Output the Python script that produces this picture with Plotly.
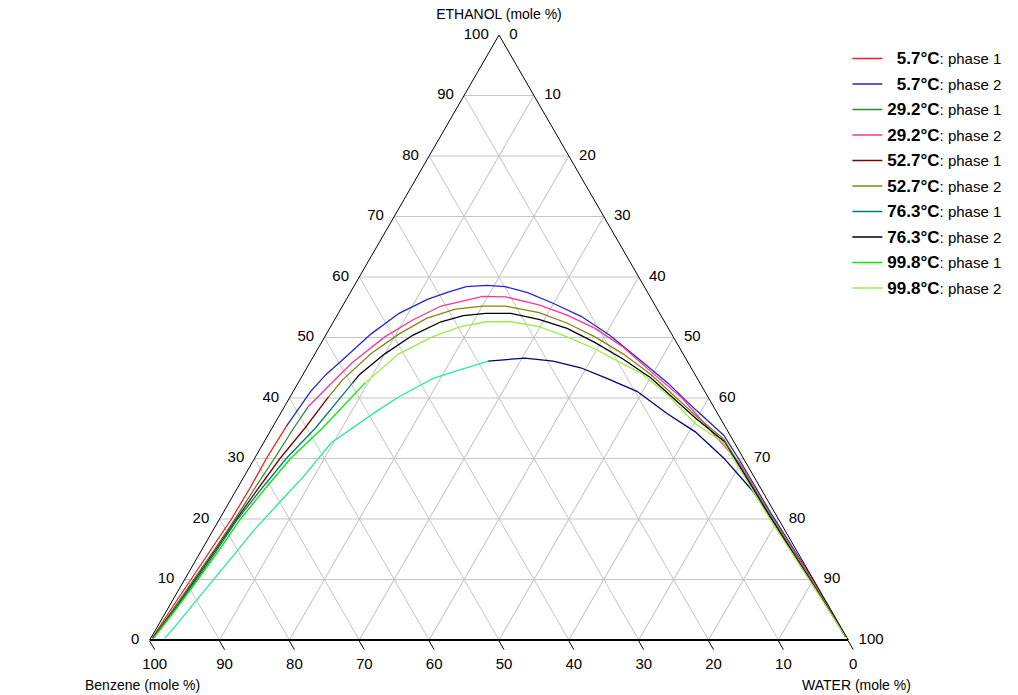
import plotly.graph_objects as go

# Ternary composition ticks (mole %)
TICKS = [0, 10, 20, 30, 40, 50, 60, 70, 80, 90, 100]

# Series values: ethanol (a) and water (c) in mole %; benzene = remainder
eth_5_7_p1 = [0.3, 5, 10, 15, 20, 25, 30, 35.4]
wat_5_7_p1 = [0.2, 0.5, 0.9, 1.3, 1.7, 1.8, 1.7, 1.9]

eth_5_7_p2 = [35.4, 41.1, 43.9, 46.4, 50.6, 54.0, 56.3, 57.4, 58.4, 58.6, 58.4, 57.4,
              55.7, 53.5, 50.4, 46.7, 42.5, 38.0, 33.8, 29.3, 20.8, 10.7, 3.9, 0.6]
wat_5_7_p2 = [1.9, 2.5, 3.3, 4.5, 6.4, 8.7, 11.6, 13.8, 16.1, 19.0, 21.7, 25.4,
              29.8, 35.0, 40.6, 46.4, 52.9, 59.2, 65.3, 70.0, 78.6, 89.2, 96.0, 99.3]

eth_29_2_p1 = [0.3, 5, 10, 15, 20, 25, 30, 35, 38.5]
wat_29_2_p1 = [0.3, 0.8, 1.3, 1.8, 2.2, 2.5, 2.85, 3.1, 3.4]

eth_29_2_p2 = [38.5, 42.2, 45.9, 50.1, 52.9, 55.2, 56.8, 56.7, 55.4, 53.7, 51.5, 48.4,
               44.4, 40.0, 35.4, 29.0, 20.5, 10.4, 0.6]
wat_29_2_p2 = [3.4, 4.7, 6.1, 8.6, 11.2, 14.1, 19.3, 22.6, 28.0, 32.9, 38.0, 43.6,
               49.5, 56.2, 62.0, 70.1, 78.7, 89.4, 99.3]

eth_52_7_p1 = [0.3, 5, 10, 15, 20, 25, 30, 35, 40.2]
wat_52_7_p1 = [0.3, 1.0, 1.5, 2.0, 2.4, 3.0, 3.65, 4.7, 5.5]

eth_52_7_p2 = [40.2, 43.0, 47.3, 50.6, 53.2, 54.7, 55.2, 55.2, 54.1, 52.4, 50.1, 47.3,
               43.9, 37.1, 33.2, 28.7, 20.3, 10.1, 0.6]
wat_52_7_p2 = [5.5, 6.1, 8.0, 10.4, 13.1, 16.4, 20.1, 23.3, 28.7, 33.5, 38.7, 44.1,
               49.8, 59.6, 65.6, 70.2, 78.9, 89.5, 99.3]

eth_76_3_p1 = [0.3, 5, 10, 15, 20, 25, 30, 35, 42.5]
wat_76_3_p1 = [0.3, 1.1, 1.7, 2.2, 2.6, 3.5, 4.55, 6.2, 7.8]

eth_76_3_p2 = [42.5, 43.9, 47.3, 50.4, 52.6, 53.6, 54.0, 54.0, 53.0, 51.5, 49.2, 46.4,
               43.3, 36.6, 32.9, 28.4, 20.0, 9.8, 0.6]
wat_76_3_p2 = [7.8, 8.1, 10.0, 12.5, 15.4, 18.1, 21.1, 24.7, 29.2, 34.0, 39.1, 44.6,
               50.1, 59.9, 65.7, 70.4, 79.0, 89.7, 99.3]

eth_99_8_p1 = [0.3, 5, 10, 15, 20, 25, 30, 35, 42.5]
wat_99_8_p1 = [0.4, 1.2, 1.9, 2.5, 3.0, 4.0, 5.15, 7.2, 9.6]

eth_99_8_p2 = [42.5, 47.3, 50.1, 51.8, 52.6, 52.6, 51.8, 50.1, 48.1, 45.6, 44.2, 40.5,
               35.7, 32.6, 28.1, 19.7, 9.6, 0.6]
wat_99_8_p2 = [9.6, 12.0, 15.4, 18.6, 21.8, 25.4, 29.8, 34.7, 39.7, 45.0, 48.1, 53.9,
               60.3, 65.9, 70.5, 79.1, 89.8, 99.3]

# Unlabelled lower curve (two coloured halves)
eth_extra_left = [0.3, 2.2, 7.9, 13.5, 18.0, 23.1, 27.0, 32.6, 38.0, 40.2, 43.2, 44.4, 46.1]
wat_extra_left = [2.0, 2.5, 3.7, 4.9, 5.8, 7.3, 8.5, 9.7, 13.7, 15.6, 18.9, 21.5, 25.4]
eth_extra_right = [46.1, 46.6, 46.1, 45.0, 43.3, 41.1, 37.4, 34.4, 30.1, 24.8, 20.8, 15.8, 9.6, 3.4, 0.6]
wat_extra_right = [25.4, 30.4, 34.7, 39.2, 43.7, 49.2, 55.4, 60.9, 67.1, 73.8, 78.2, 83.5, 90.2, 96.5, 99.3]

temps = ["\u20075.7°C", "\u20075.7°C", "29.2°C", "29.2°C", "52.7°C", "52.7°C",
         "76.3°C", "76.3°C", "99.8°C", "99.8°C"]
phases = ["phase 1", "phase 2"] * 5
colors = ["#ff1a1a", "#2424d8", "#2e8b2e", "#ff3399", "#800000",
          "#858510", "#007a7a", "#000000", "#00ee00", "#99ee44"]
series = [
    (eth_5_7_p1, wat_5_7_p1), (eth_5_7_p2, wat_5_7_p2),
    (eth_29_2_p1, wat_29_2_p1), (eth_29_2_p2, wat_29_2_p2),
    (eth_52_7_p1, wat_52_7_p1), (eth_52_7_p2, wat_52_7_p2),
    (eth_76_3_p1, wat_76_3_p1), (eth_76_3_p2, wat_76_3_p2),
    (eth_99_8_p1, wat_99_8_p1), (eth_99_8_p2, wat_99_8_p2),
]

FONT = "Liberation Sans, Arial, sans-serif"
NBSP = "\u00a0"

fig = go.Figure()

fig.add_trace(go.Scatterternary(a=eth_extra_left, c=wat_extra_left, mode="lines",
                                line=dict(color="#22ee99", width=1.3),
                                showlegend=False, hoverinfo="skip"))
fig.add_trace(go.Scatterternary(a=eth_extra_right, c=wat_extra_right, mode="lines",
                                line=dict(color="#000080", width=1.3),
                                showlegend=False, hoverinfo="skip"))

for i, ((a, c), t, p, col) in enumerate(zip(series, temps, phases, colors)):
    fig.add_trace(go.Scatterternary(
        a=a, c=c, mode="lines",
        name=f"<b><span style='font-size:17px'>{t}</span></b>: {p}",
        legendgroup=f"g{i}",
        line=dict(color=col, width=1.3),
    ))

axis_common = dict(
    tickvals=TICKS,
    showgrid=True, gridcolor="#c4c4c4", gridwidth=1,
    showline=True, linecolor="black",
    tickfont=dict(family=FONT, size=15, color="black"),
    color="black",
)

fig.update_layout(
    width=1018, height=695,
    margin=dict(l=50, r=70, t=35, b=55),
    paper_bgcolor="white",
    plot_bgcolor="white",
    font=dict(family=FONT, color="black"),
    showlegend=True,
    legend=dict(
        x=1.065, xanchor="right", y=0.988, yanchor="top",
        font=dict(family=FONT, size=15, color="black"),
        tracegroupgap=3,
        bgcolor="rgba(255,255,255,0)",
    ),
    ternary=dict(
        sum=100,
        bgcolor="white",
        aaxis=dict(title=dict(text="ETHANOL (mole %)", font=dict(family=FONT, size=14)),
                   ticks="", linewidth=1,
                   ticktext=[f"{v}{NBSP}{NBSP}" for v in TICKS], **axis_common),
        baxis=dict(title=dict(text=""), ticks="outside", ticklen=10, tickcolor="black",
                   linewidth=2, ticktext=[str(v) for v in TICKS], **axis_common),
        caxis=dict(title=dict(text=""), ticks="", linewidth=1,
                   ticktext=[f"{NBSP}{NBSP}{v}" for v in TICKS], **axis_common),
    ),
    annotations=[
        dict(text="Benzene (mole %)", xref="paper", yref="paper",
             x=(142 - 50) / 898, y=-0.0745, xanchor="center", yanchor="middle",
             showarrow=False, font=dict(family=FONT, size=14, color="black")),
        dict(text="WATER (mole %)", xref="paper", yref="paper",
             x=(856 - 50) / 898, y=-0.0745, xanchor="center", yanchor="middle",
             showarrow=False, font=dict(family=FONT, size=14, color="black")),
    ],
)

fig.write_html("out.html")
